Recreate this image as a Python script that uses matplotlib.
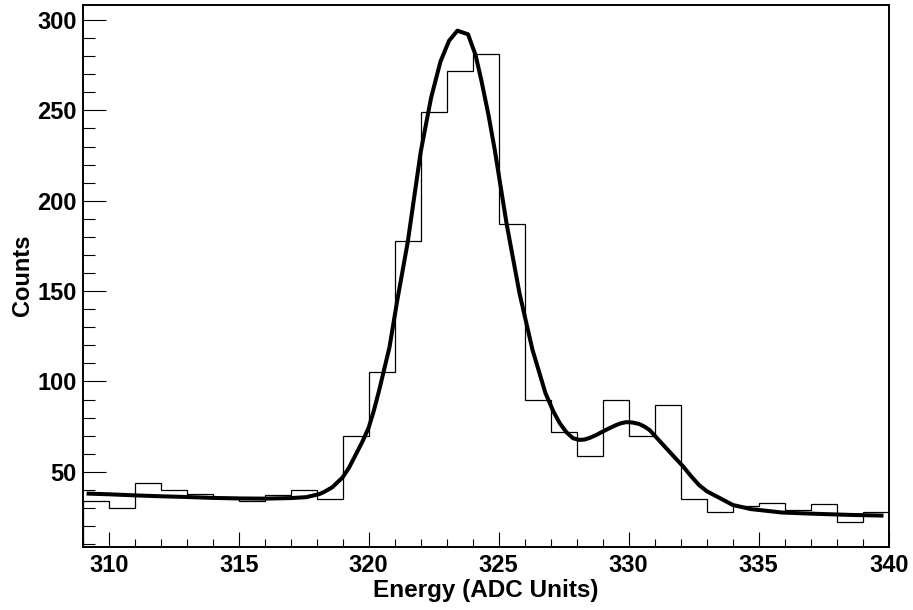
import numpy as np
import matplotlib
matplotlib.use("Agg")
import matplotlib.pyplot as plt
from matplotlib.ticker import MultipleLocator

# Histogram (bin edges 309..340, width 1)
bin_edges = list(range(309, 341))
counts = [34, 30, 44, 40, 38, 36, 34, 37, 40, 35,
          70, 105, 178, 249, 272, 281, 187, 90, 72, 59,
          90, 70, 87, 35, 28, 31, 33, 29, 32, 22, 28]

fit_x = [309.15, 310.0, 311.0, 312.0, 313.0, 314.0, 315.0, 316.0, 317.0, 317.6,
         318.1, 318.3, 318.6, 319.0, 319.25, 319.5, 319.75, 320.0, 320.2, 320.4,
         320.8, 321.1, 321.5, 322.0, 322.4, 322.76, 323.09, 323.41, 323.82, 324.11,
         324.33, 324.6, 324.85, 325.3, 325.8, 326.3, 326.8, 327.1, 327.35, 327.6,
         327.86, 328.1, 328.3, 328.5, 328.75, 329.0, 329.25, 329.5, 329.7, 329.9,
         330.15, 330.4, 330.6, 330.8, 331.1, 331.5, 331.8, 332.1, 332.4, 332.7,
         333.0, 333.4, 334.0, 334.7, 335.9, 337.2, 338.5, 339.8]
fit_y = [38.0, 37.6, 37.0, 36.5, 36.1, 35.6, 35.3, 35.2, 35.5, 36.0,
         37.7, 39.0, 41.5, 47.0, 52.5, 59.5, 66.5, 74.5, 84.0, 95.0,
         119.0, 145.0, 177.0, 227.0, 257.0, 277.0, 288.5, 294.1, 292.1, 280.6,
         266.8, 248.0, 228.0, 187.6, 148.8, 117.5, 93.5, 83.5, 76.9, 72.0,
         68.6, 67.7, 67.9, 68.8, 70.4, 72.3, 74.1, 75.8, 76.9, 77.5,
         77.3, 76.5, 75.1, 73.2, 68.5, 62.2, 57.5, 52.9, 47.6, 42.8,
         39.3, 36.3, 31.7, 29.4, 27.5, 26.8, 26.2, 25.8]

xlabel = "Energy (ADC Units)"
ylabel = "Counts"

plt.rcParams['font.family'] = ['Liberation Sans', 'DejaVu Sans']
plt.rcParams['font.weight'] = 'bold'

W, H = 913, 610
fig = plt.figure(figsize=(W / 100, H / 100), dpi=100)
L, R, T, B = 82.7, 888.7, 5.0, 546.7
ax = fig.add_axes([L / W, 1 - B / H, (R - L) / W, (B - T) / H])

ax.stairs(counts, bin_edges, color='black', linewidth=0.9)
ax.plot(fit_x, fit_y, color='black', linewidth=2.9, solid_joinstyle='round',
        solid_capstyle='butt')

ax.set_xlim(309, 340)
ax.set_ylim(8.6, 308.3)

ax.xaxis.set_major_locator(MultipleLocator(5))
ax.xaxis.set_minor_locator(MultipleLocator(1))
ax.yaxis.set_major_locator(MultipleLocator(50))
ax.yaxis.set_minor_locator(MultipleLocator(10))

ax.tick_params(axis='both', which='both', direction='in', top=False, right=False,
               width=0.8, color='black')
ax.tick_params(axis='x', which='major', length=10.8, pad=5, labelsize=17)
ax.tick_params(axis='x', which='minor', length=5.8)
ax.tick_params(axis='y', which='major', length=16.6, pad=4.3, labelsize=17)
ax.tick_params(axis='y', which='minor', length=8.6)
for lbl in ax.get_xticklabels() + ax.get_yticklabels():
    lbl.set_fontweight('bold')

for s in ax.spines.values():
    s.set_linewidth(1.4)
    s.set_color('black')

fig.text(485.5 / W, 1 - 596.7 / H, xlabel, ha='center', va='baseline',
         fontsize=17.5, fontweight='bold')
fig.text(28.5 / W, 1 - 275.5 / H, ylabel, ha='center', va='baseline', rotation=90,
         rotation_mode='anchor', fontsize=17, fontweight='bold')

fig.savefig("out.png", dpi=100)
